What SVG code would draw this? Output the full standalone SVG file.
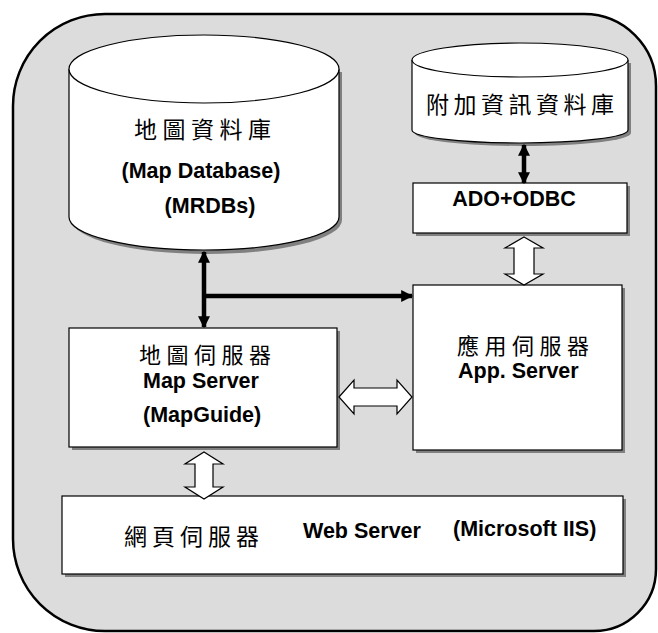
<svg xmlns="http://www.w3.org/2000/svg" width="658" height="633" viewBox="0 0 658 633">
  <defs>
    <style>
      .cjk { font-family: "Noto Sans CJK TC", "Noto Sans CJK SC", sans-serif; font-size: 22px; letter-spacing: 5.5px; fill: #000; }
      .lat { font-family: "Liberation Sans", Arial, sans-serif; font-weight: bold; font-size: 21.5px; fill: #000; }
      .box { fill: #fff; stroke: #000; stroke-width: 1.2; }
      .shadow { fill: #808080; stroke: none; }
      .hollow { fill: #fff; stroke: #000; stroke-width: 1.2; stroke-linejoin: miter; }
      .thick { fill: none; stroke: #000; stroke-width: 4.5; }
    </style>
    <marker id="head" viewBox="0 0 10 10" refX="9" refY="5" markerWidth="12" markerHeight="12" markerUnits="userSpaceOnUse" orient="auto-start-reverse">
      <path d="M0,0 L10,5 L0,10 Z" fill="#000"/>
    </marker>
  </defs>

  <!-- outer frame -->
  <path d="M105 14 H584 A72 72 0 0 1 656 86 V569 A62 62 0 0 1 594 631 H105 A92 92 0 0 1 13 539 V106 A92 92 0 0 1 105 14 Z" fill="#dcdcdc" stroke="#000" stroke-width="2.5"/>

  <!-- map database cylinder -->
  <g id="map-db">
    <path class="shadow" d="M72 72 V220 A135 34 0 0 0 342 220 V72 Z"/>
    <path class="box" d="M69 69 V217 A135 33 0 0 0 339 217 V69"/>
    <ellipse class="box" cx="204" cy="69" rx="135" ry="34"/>
    <text class="cjk" x="134" y="138" style="font-size:23px;letter-spacing:5.5px">地圖資料庫</text>
    <text class="lat" x="201" y="178" text-anchor="middle">(Map Database)</text>
    <text class="lat" x="210" y="213" text-anchor="middle">(MRDBs)</text>
  </g>

  <!-- attribute database cylinder -->
  <g id="info-db">
    <path class="shadow" d="M415 63 V133 A108 13 0 0 0 631 133 V63 Z"/>
    <path class="box" d="M412 60 V130 A108 13 0 0 0 628 130 V60"/>
    <ellipse class="box" cx="520" cy="60" rx="108" ry="17"/>
    <text class="cjk" x="426" y="113" style="font-size:23px;letter-spacing:4.5px">附加資訊資料庫</text>
  </g>

  <!-- ADO+ODBC -->
  <g id="ado">
    <rect class="shadow" x="416" y="186" width="214" height="50"/>
    <rect class="box" x="413" y="183" width="214" height="50"/>
    <text class="lat" x="514" y="206" text-anchor="middle">ADO+ODBC</text>
  </g>

  <!-- application server -->
  <g id="app-server">
    <rect class="shadow" x="416" y="288" width="209" height="165"/>
    <rect class="box" x="413" y="285" width="209" height="165"/>
    <text class="cjk" x="457" y="354">應用伺服器</text>
    <text class="lat" x="458" y="378">App. Server</text>
  </g>

  <!-- map server -->
  <g id="map-server">
    <rect class="shadow" x="72" y="331" width="268" height="119"/>
    <rect class="box" x="69" y="328" width="268" height="119"/>
    <text class="cjk" x="139" y="363">地圖伺服器</text>
    <text class="lat" x="143" y="388">Map Server</text>
    <text class="lat" x="143" y="422">(MapGuide)</text>
  </g>

  <!-- web server -->
  <g id="web-server">
    <rect class="shadow" x="65" y="499" width="561" height="78"/>
    <rect class="box" x="62" y="496" width="561" height="78"/>
    <text class="cjk" x="124" y="545" style="font-size:23px;letter-spacing:5px">網頁伺服器</text>
    <text class="lat" x="303" y="538">Web Server</text>
    <text class="lat" x="453" y="536">(Microsoft IIS)</text>
  </g>

  <!-- connectors -->
  <g id="connectors">
    <line class="thick" x1="204" y1="252" x2="204" y2="327" marker-start="url(#head)" marker-end="url(#head)"/>
    <line class="thick" x1="204" y1="296" x2="412" y2="296" marker-end="url(#head)"/>
    <line class="thick" x1="524" y1="145" x2="524" y2="183" marker-start="url(#head)" marker-end="url(#head)"/>
    <polygon class="hollow" points="524,237 543,248 534,248 534,274 543,274 524,285 505,274 514,274 514,248 505,248"/>
    <polygon class="hollow" points="339,397 354,380 354,388 397,388 397,380 412,397 397,414 397,406 354,406 354,414"/>
    <polygon class="hollow" points="204,452 223,464 213,464 213,487 223,487 204,499 185,487 195,487 195,464 185,464"/>
  </g>
</svg>
